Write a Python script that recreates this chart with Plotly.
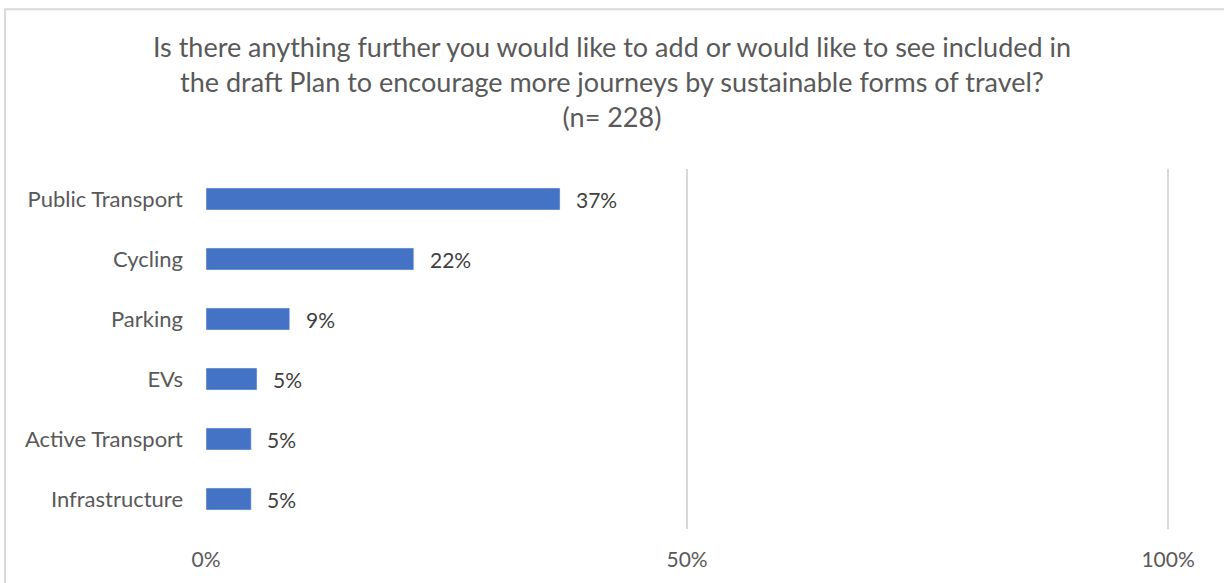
import plotly.graph_objects as go

categories = ["Public Transport", "Cycling", "Parking", "EVs", "Active Transport", "Infrastructure"]
shares = [0.368, 0.216, 0.087, 0.053, 0.047, 0.047]
x_ticks = [0, 0.5, 1]

title_text = ("Is there anything further you would like to add or would like to see included in"
              "<br>the draft Plan to encourage more journeys by sustainable forms of travel?"
              "<br>(n= 228)")

FONT = "Lato"
GREY = "#595959"
LINE = "#d9d9d9"

fig = go.Figure(go.Bar(
    x=shares,
    y=categories,
    orientation="h",
    marker_color="#4472C4",
    hoverinfo="skip",
))

# data labels sit a bit right of the bar end
for cat, val in zip(categories, shares):
    fig.add_annotation(x=val, y=cat, text=f"{val:.0%}", showarrow=False,
                       xanchor="left", xshift=14,
                       font=dict(family=FONT, size=21, color="#404040"))

# chart frame (only top and left edges show in the crop)
fig.add_shape(type="rect", xref="paper", yref="paper",
              x0=-0.2085, x1=1.2, y0=-0.3, y1=1.444,
              line=dict(color=LINE, width=2), layer="below")

fig.update_layout(
    width=1224,
    height=583,
    margin=dict(l=206, r=54, t=169, b=54),
    paper_bgcolor="white",
    plot_bgcolor="white",
    bargap=0.633,
    showlegend=False,
    font=dict(family=FONT, size=21, color=GREY),
    title=dict(text=title_text, x=0.5, xref="container", xanchor="center",
               y=1 - 57 / 583, yref="container", yanchor="top",
               font=dict(family=FONT, size=27, color=GREY)),
    xaxis=dict(range=[0, 1.002], tickvals=x_ticks, tickformat=".0%",
               showgrid=True, gridcolor=LINE, gridwidth=2,
               zeroline=False, showline=False, ticks="",
               ticklabelstandoff=16, fixedrange=True),
    yaxis=dict(autorange="reversed", showgrid=False, zeroline=False,
               showline=False, ticks="", ticklabelstandoff=22, fixedrange=True,
               tickfont=dict(size=22)),
)

# drop the default page margin so the figure sits at the window's corner
fig.write_html("out.html", config={"displayModeBar": False},
               post_script="document.body.style.margin='0';")
